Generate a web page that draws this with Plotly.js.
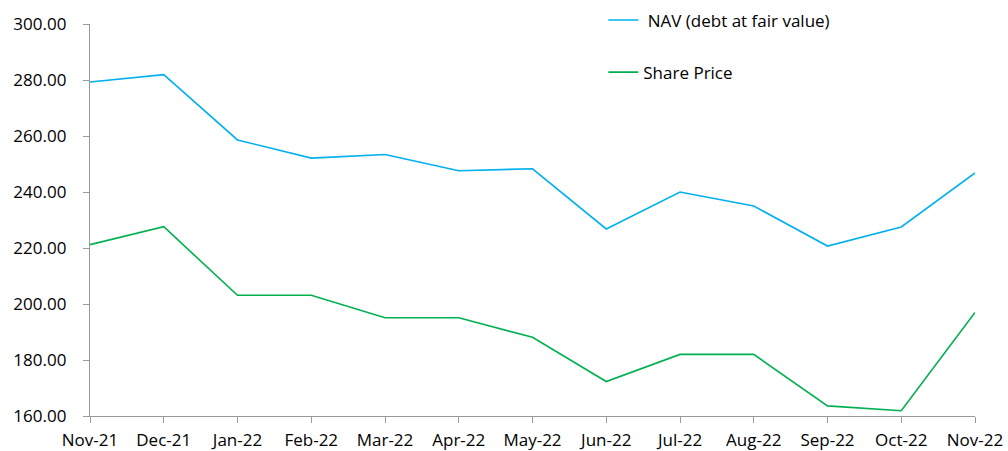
<!DOCTYPE html>
<html>
<head>
<meta charset="utf-8">
<script src="https://cdn.plot.ly/plotly-3.0.1.min.js"></script>
<style>html,body{margin:0;padding:0;background:#fff;}#chart{width:1008px;height:451px;}</style>
</head>
<body>
<div id="chart"></div>
<script>
const months = ["Nov-21","Dec-21","Jan-22","Feb-22","Mar-22","Apr-22","May-22","Jun-22","Jul-22","Aug-22","Sep-22","Oct-22","Nov-22"];
const navDebtFairValue = [279.3, 281.9, 258.6, 252.1, 253.4, 247.6, 248.3, 226.8, 240.0, 235.0, 220.7, 227.5, 246.8];
const sharePrice = [221.2, 227.6, 203.1, 203.1, 195.1, 195.1, 188.1, 172.3, 182.0, 182.0, 163.6, 161.9, 197.0];
const yTicks = [160, 180, 200, 220, 240, 260, 280, 300];

const font = {family: "Open Sans, Noto Sans, sans-serif", size: 17, color: "#000"};

const traces = [
  {x: months, y: navDebtFairValue, type: "scatter", mode: "lines", name: "\u00a0NAV (debt at fair value)",
   legendgroup: "a", line: {color: "#00B0F0", width: 1.6}},
  {x: months, y: sharePrice, type: "scatter", mode: "lines", name: "Share Price",
   legendgroup: "b", line: {color: "#00B050", width: 1.6}}
];

const layout = {
  width: 1008, height: 451,
  margin: {l: 90, r: 33, t: 24, b: 35, autoexpand: false},
  paper_bgcolor: "#fff", plot_bgcolor: "#fff",
  font: font,
  showlegend: true,
  legend: {x: 0.58, y: 1.055, xanchor: "left", yanchor: "top", font: font,
           traceorder: "grouped", tracegroupgap: 27, bgcolor: "rgba(0,0,0,0)"},
  xaxis: {type: "category", range: [0, 12], showgrid: false, zeroline: false, automargin: false,
          showline: true, linecolor: "#999", linewidth: 1.2,
          ticks: "outside", ticklen: 6, tickcolor: "#999", tickfont: font, ticklabelstandoff: 2},
  yaxis: {range: [160, 300], tickvals: yTicks, tickformat: ".2f", showgrid: false, zeroline: false, automargin: false,
          showline: true, linecolor: "#999", linewidth: 1.2,
          ticks: "outside", ticklen: 6, tickcolor: "#999", tickfont: font, ticklabelstandoff: 13}
};

Plotly.newPlot("chart", traces, layout, {displayModeBar: false, staticPlot: true});
</script>
</body>
</html>
